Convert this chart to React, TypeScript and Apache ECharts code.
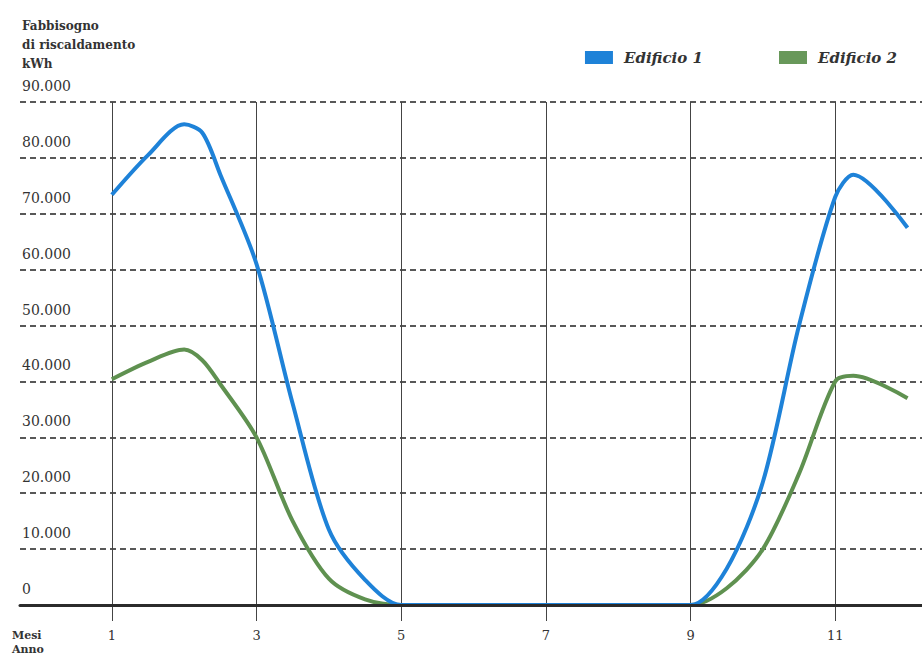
import React, { useEffect, useRef } from "react";
import * as echarts from "echarts";

const months = [1, 1.5, 2, 2.25, 2.5, 3, 3.5, 4, 4.5, 5, 6, 7, 8, 9, 9.5, 10, 10.5, 11, 11.25, 12];
const edificio1 = [73400, 80500, 86000, 84500, 77000, 61000, 36000, 13500, 4500, 0, 0, 0, 0, 0, 6500, 22000, 50000, 73000, 77000, 67500];
const edificio2 = [40400, 43500, 45700, 43800, 39500, 30000, 15000, 4700, 1000, 0, 0, 0, 0, 0, 3000, 10000, 23500, 40000, 41000, 37000];
const tickMonths = [1, 3, 5, 7, 9, 11];
const seriesNames = ["Edificio 1", "Edificio 2"];
const yTitle = "Fabbisogno\ndi riscaldamento\nkWh";
const xTitle = ["Mesi", "Anno"];

const FONT = "DejaVu Serif";

export default function App() {
  const ref = useRef<HTMLDivElement>(null);
  useEffect(() => {
    if (!ref.current) return;
    const chart = echarts.init(ref.current, null, { renderer: "svg" });
    const pair = (vals: number[]) => months.map((m, i) => [m, vals[i]]);
    chart.setOption({
      animation: false,
      backgroundColor: "#ffffff",
      textStyle: { fontFamily: FONT },
      grid: { left: 20, right: 0, top: 102, bottom: 51, containLabel: false },
      legend: {
        right: 20,
        top: 45,
        itemWidth: 28,
        itemHeight: 13,
        itemGap: 76,
        icon: "rect",
        data: seriesNames,
        textStyle: {
          fontFamily: FONT,
          fontStyle: "italic",
          fontWeight: "bold",
          fontSize: 15,
          color: "#333",
          padding: [0, 0, 0, 6],
        },
      },
      graphic: [
        {
          type: "text",
          left: 22,
          top: 16,
          style: {
            text: yTitle,
            fontFamily: FONT,
            fontWeight: "bold",
            fontSize: 12,
            lineHeight: 19,
            fill: "#333",
          },
        },
        {
          type: "text",
          left: 12,
          top: 628,
          style: {
            text: xTitle.join("\n"),
            fontFamily: FONT,
            fontWeight: "bold",
            fontSize: 11,
            lineHeight: 14,
            fill: "#333",
          },
        },
      ],
      xAxis: [
        {
          type: "value",
          min: -0.27,
          max: 12.2,
          axisLine: { show: false },
          axisTick: {
            show: true,
            customValues: tickMonths,
            length: 16,
            lineStyle: { color: "#444", width: 1 },
          },
          axisLabel: {
            customValues: tickMonths,
            margin: 24,
            fontFamily: FONT,
            fontSize: 13,
            color: "#333",
          },
          splitLine: { show: true, lineStyle: { color: "#444", width: 1, type: "solid" } },
          z: 0,
        },
        {
          type: "value",
          min: -0.27,
          max: 12.2,
          position: "bottom",
          axisLine: { show: true, lineStyle: { color: "#2b2b2b", width: 3 } },
          axisTick: { show: false },
          axisLabel: { show: false },
          splitLine: { show: false },
          z: 5,
        },
      ],
      yAxis: {
        type: "value",
        min: 0,
        max: 90000,
        interval: 10000,
        axisLine: { show: false },
        axisTick: { show: false },
        axisLabel: {
          inside: true,
          margin: 2,
          verticalAlign: "bottom",
          lineHeight: 16,
          padding: [0, 0, 8, 0],
          fontFamily: FONT,
          fontSize: 14,
          color: "#333",
          formatter: (v: number) => (v === 0 ? "0" : v / 1000 + ".000"),
        },
        splitLine: {
          show: true,
          lineStyle: { color: "#222", width: 1.5, type: [6, 4] },
        },
      },
      series: [
        {
          name: seriesNames[0],
          type: "line",
          smooth: 0.3,
          symbol: "none",
          data: pair(edificio1),
          itemStyle: { color: "#1e82d8" },
          lineStyle: { color: "#1e82d8", width: 4 },
          z: 3,
        },
        {
          name: seriesNames[1],
          type: "line",
          smooth: 0.3,
          symbol: "none",
          data: pair(edificio2),
          itemStyle: { color: "#68985a" },
          lineStyle: { color: "#5f9150", width: 4 },
          z: 2,
        },
      ],
    });
    return () => chart.dispose();
  }, []);
  return (
    <div
      ref={ref}
      style={{ position: "fixed", left: 0, top: 0, width: 922, height: 656 }}
    />
  );
}
